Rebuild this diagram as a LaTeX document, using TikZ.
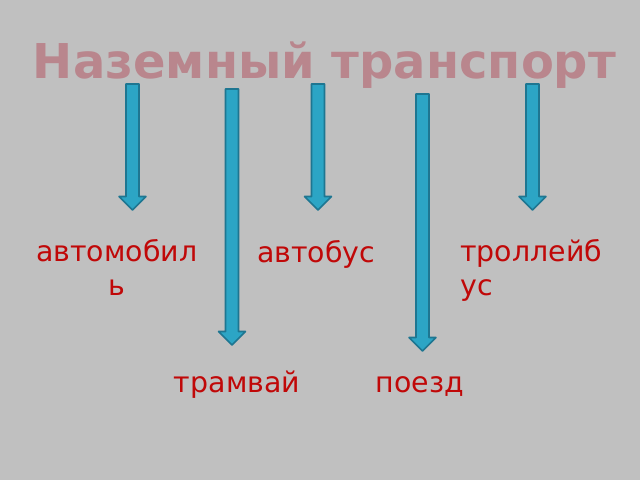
\documentclass[tikz,border=0pt]{standalone}
\usepackage{fontspec}
\setmainfont{DejaVu Sans}
\definecolor{slidegray}{RGB}{192,192,192}
\definecolor{titlerose}{RGB}{185,134,141}
\definecolor{wordred}{RGB}{192,8,8}
\definecolor{arrowfill}{RGB}{44,165,197}
\definecolor{arrowline}{RGB}{30,118,145}
\begin{document}
\begin{tikzpicture}[x=0.025cm, y=-0.025cm, line join=round, >=stealth,
	title/.style={inner sep=0pt, anchor=base, text=titlerose, font=\fontsize{34.1}{40}\selectfont\bfseries},
	word/.style={inner sep=0pt, anchor=base, text=wordred, font=\fontsize{20.2}{23.5}\selectfont},
	blockarrow/.style={fill=arrowfill, draw=arrowline, line width=1.1pt}]
	\fill[slidegray] (0,0) rectangle (640,480);
	\useasboundingbox (0,0) rectangle (640,480);
	\node[title] (titre) at (324.5,78.3) {Наземный транспорт};
	% block arrows: x / top / tip
	\foreach \x/\t/\b in {132.5/84/210, 232/89/345, 318/84/210, 422.5/94/351, 532.5/84/210}
		\draw[blockarrow] (\x-6.5,\t) --++(13,0) -- (\x+6.5,\b-13.5) --++(7,0)
			-- (\x,\b) -- (\x-13.5,\b-13.5) --++(7,0) -- cycle;
	\node[word, align=center] (auto) at (116.7,295) {автомобил\\ь};
	\node[word] (bus) at (316.3,262) {автобус};
	\node[word, align=left, anchor=base west] (trolley) at (460,295) {троллейб\\ус};
	\node[word] (tram) at (237,392.3) {трамвай};
	\node[word] (train) at (420,392.3) {поезд};
\end{tikzpicture}
\end{document}
